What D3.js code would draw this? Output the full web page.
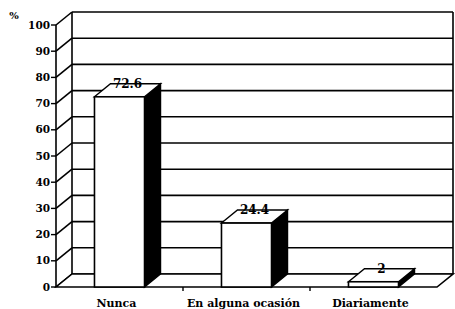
<!DOCTYPE html>
<html>
<head>
<meta charset="utf-8">
<script src="https://cdn.jsdelivr.net/npm/d3@7"></script>
<style>
  body { margin: 0; background: #fff; }
  svg { display: block; }
  svg text { font-family: "DejaVu Serif", "Liberation Serif", serif; font-weight: bold; }
</style>
</head>
<body>
<div id="container"></div>
<script>
  var categories = ["Nunca", "En alguna ocasión", "Diariamente"];
  var values = [72.6, 24.4, 2];
  var valueLabels = ["72.6", "24.4", "2"];
  var yTicks = [0, 10, 20, 30, 40, 50, 60, 70, 80, 90, 100];

  var width = 455, height = 309;
  var dx = 16, dy = -13; // depth offset

  var svg = d3.select("#container").append("svg")
    .attr("width", width)
    .attr("height", height);

  var y = d3.scaleLinear().domain([0, 100]).range([287, 25]);
  var x = d3.scaleBand()
    .domain(categories)
    .range([56, 437])
    .paddingInner(0.606)
    .paddingOuter(0.303);

  var x0 = 56, x1 = 437;

  // back wall gridlines
  svg.selectAll(".grid")
    .data(yTicks)
    .enter().append("line")
    .attr("x1", x0 + dx).attr("x2", x1 + dx)
    .attr("y1", function(d) { return y(d) + dy; })
    .attr("y2", function(d) { return y(d) + dy; })
    .attr("stroke", "#000").attr("stroke-width", 1.6);

  // side wall diagonals
  svg.selectAll(".diag")
    .data(yTicks)
    .enter().append("line")
    .attr("x1", x0).attr("x2", x0 + dx)
    .attr("y1", function(d) { return y(d); })
    .attr("y2", function(d) { return y(d) + dy; })
    .attr("stroke", "#000").attr("stroke-width", 1.6);

  // back wall edges
  svg.append("line")
    .attr("x1", x0 + dx).attr("x2", x0 + dx)
    .attr("y1", y(0) + dy).attr("y2", y(100) + dy)
    .attr("stroke", "#000").attr("stroke-width", 1.6);
  svg.append("line")
    .attr("x1", x1 + dx).attr("x2", x1 + dx)
    .attr("y1", y(0) + dy).attr("y2", y(100) + dy)
    .attr("stroke", "#000").attr("stroke-width", 1.6);

  // floor
  svg.append("path")
    .attr("d", "M" + x0 + "," + y(0) + "L" + x1 + "," + y(0) +
      "L" + (x1 + dx) + "," + (y(0) + dy) + "L" + (x0 + dx) + "," + (y(0) + dy) + "Z")
    .attr("fill", "#fff").attr("stroke", "#000").attr("stroke-width", 1.6);

  // front y axis
  svg.append("line")
    .attr("x1", x0).attr("x2", x0)
    .attr("y1", y(0)).attr("y2", y(100))
    .attr("stroke", "#000").attr("stroke-width", 1.6);

  var ticks = svg.selectAll(".tick")
    .data(yTicks)
    .enter().append("g")
    .attr("transform", function(d) { return "translate(" + x0 + "," + y(d) + ")"; });
  ticks.append("line")
    .attr("x1", -5).attr("x2", 0)
    .attr("stroke", "#000").attr("stroke-width", 1.4);
  ticks.append("text")
    .attr("x", -6).attr("dy", "0.35em")
    .attr("text-anchor", "end")
    .attr("font-size", 10.5)
    .text(function(d) { return d; });

  svg.append("text")
    .attr("x", 14).attr("y", 19)
    .attr("text-anchor", "middle")
    .attr("font-size", 10)
    .text("%");

  // category ticks on front floor edge
  svg.selectAll(".ctick")
    .data(categories.slice(1))
    .enter().append("line")
    .attr("x1", function(d) { return x(d) - x.step() * x.paddingInner() / 2; })
    .attr("x2", function(d) { return x(d) - x.step() * x.paddingInner() / 2; })
    .attr("y1", y(0)).attr("y2", y(0) + 4)
    .attr("stroke", "#000").attr("stroke-width", 1.4);

  // bars
  var bars = svg.selectAll(".bar")
    .data(values)
    .enter().append("g");

  bars.append("path")
    .attr("d", function(d, i) {
      var bx = x(categories[i]) + x.bandwidth(), top = y(d), bot = y(0);
      return "M" + bx + "," + bot + "L" + bx + "," + top +
        "L" + (bx + dx) + "," + (top + dy) + "L" + (bx + dx) + "," + (bot + dy) + "Z";
    })
    .attr("fill", "#000").attr("stroke", "#000").attr("stroke-width", 1.4);

  bars.append("path")
    .attr("d", function(d, i) {
      var bx = x(categories[i]), bw = x.bandwidth(), top = y(d);
      return "M" + bx + "," + top + "L" + (bx + bw) + "," + top +
        "L" + (bx + bw + dx) + "," + (top + dy) + "L" + (bx + dx) + "," + (top + dy) + "Z";
    })
    .attr("fill", "#fff").attr("stroke", "#000").attr("stroke-width", 1.4);

  bars.append("rect")
    .attr("x", function(d, i) { return x(categories[i]); })
    .attr("y", function(d) { return y(d); })
    .attr("width", x.bandwidth())
    .attr("height", function(d) { return y(0) - y(d); })
    .attr("fill", "#fff").attr("stroke", "#000").attr("stroke-width", 1.6);

  bars.append("text")
    .attr("x", function(d, i) { return x(categories[i]) + x.bandwidth() / 2 + dx / 2; })
    .attr("y", function(d) { return y(d) + dy + 4; })
    .attr("text-anchor", "middle")
    .attr("font-size", 12)
    .text(function(d, i) { return valueLabels[i]; });

  // category labels
  svg.selectAll(".clabel")
    .data(categories)
    .enter().append("text")
    .attr("x", function(d) { return x(d) + x.bandwidth() / 2 - 3; })
    .attr("y", 307)
    .attr("text-anchor", "middle")
    .attr("font-size", 11)
    .text(function(d) { return d; });
</script>
</body>
</html>
